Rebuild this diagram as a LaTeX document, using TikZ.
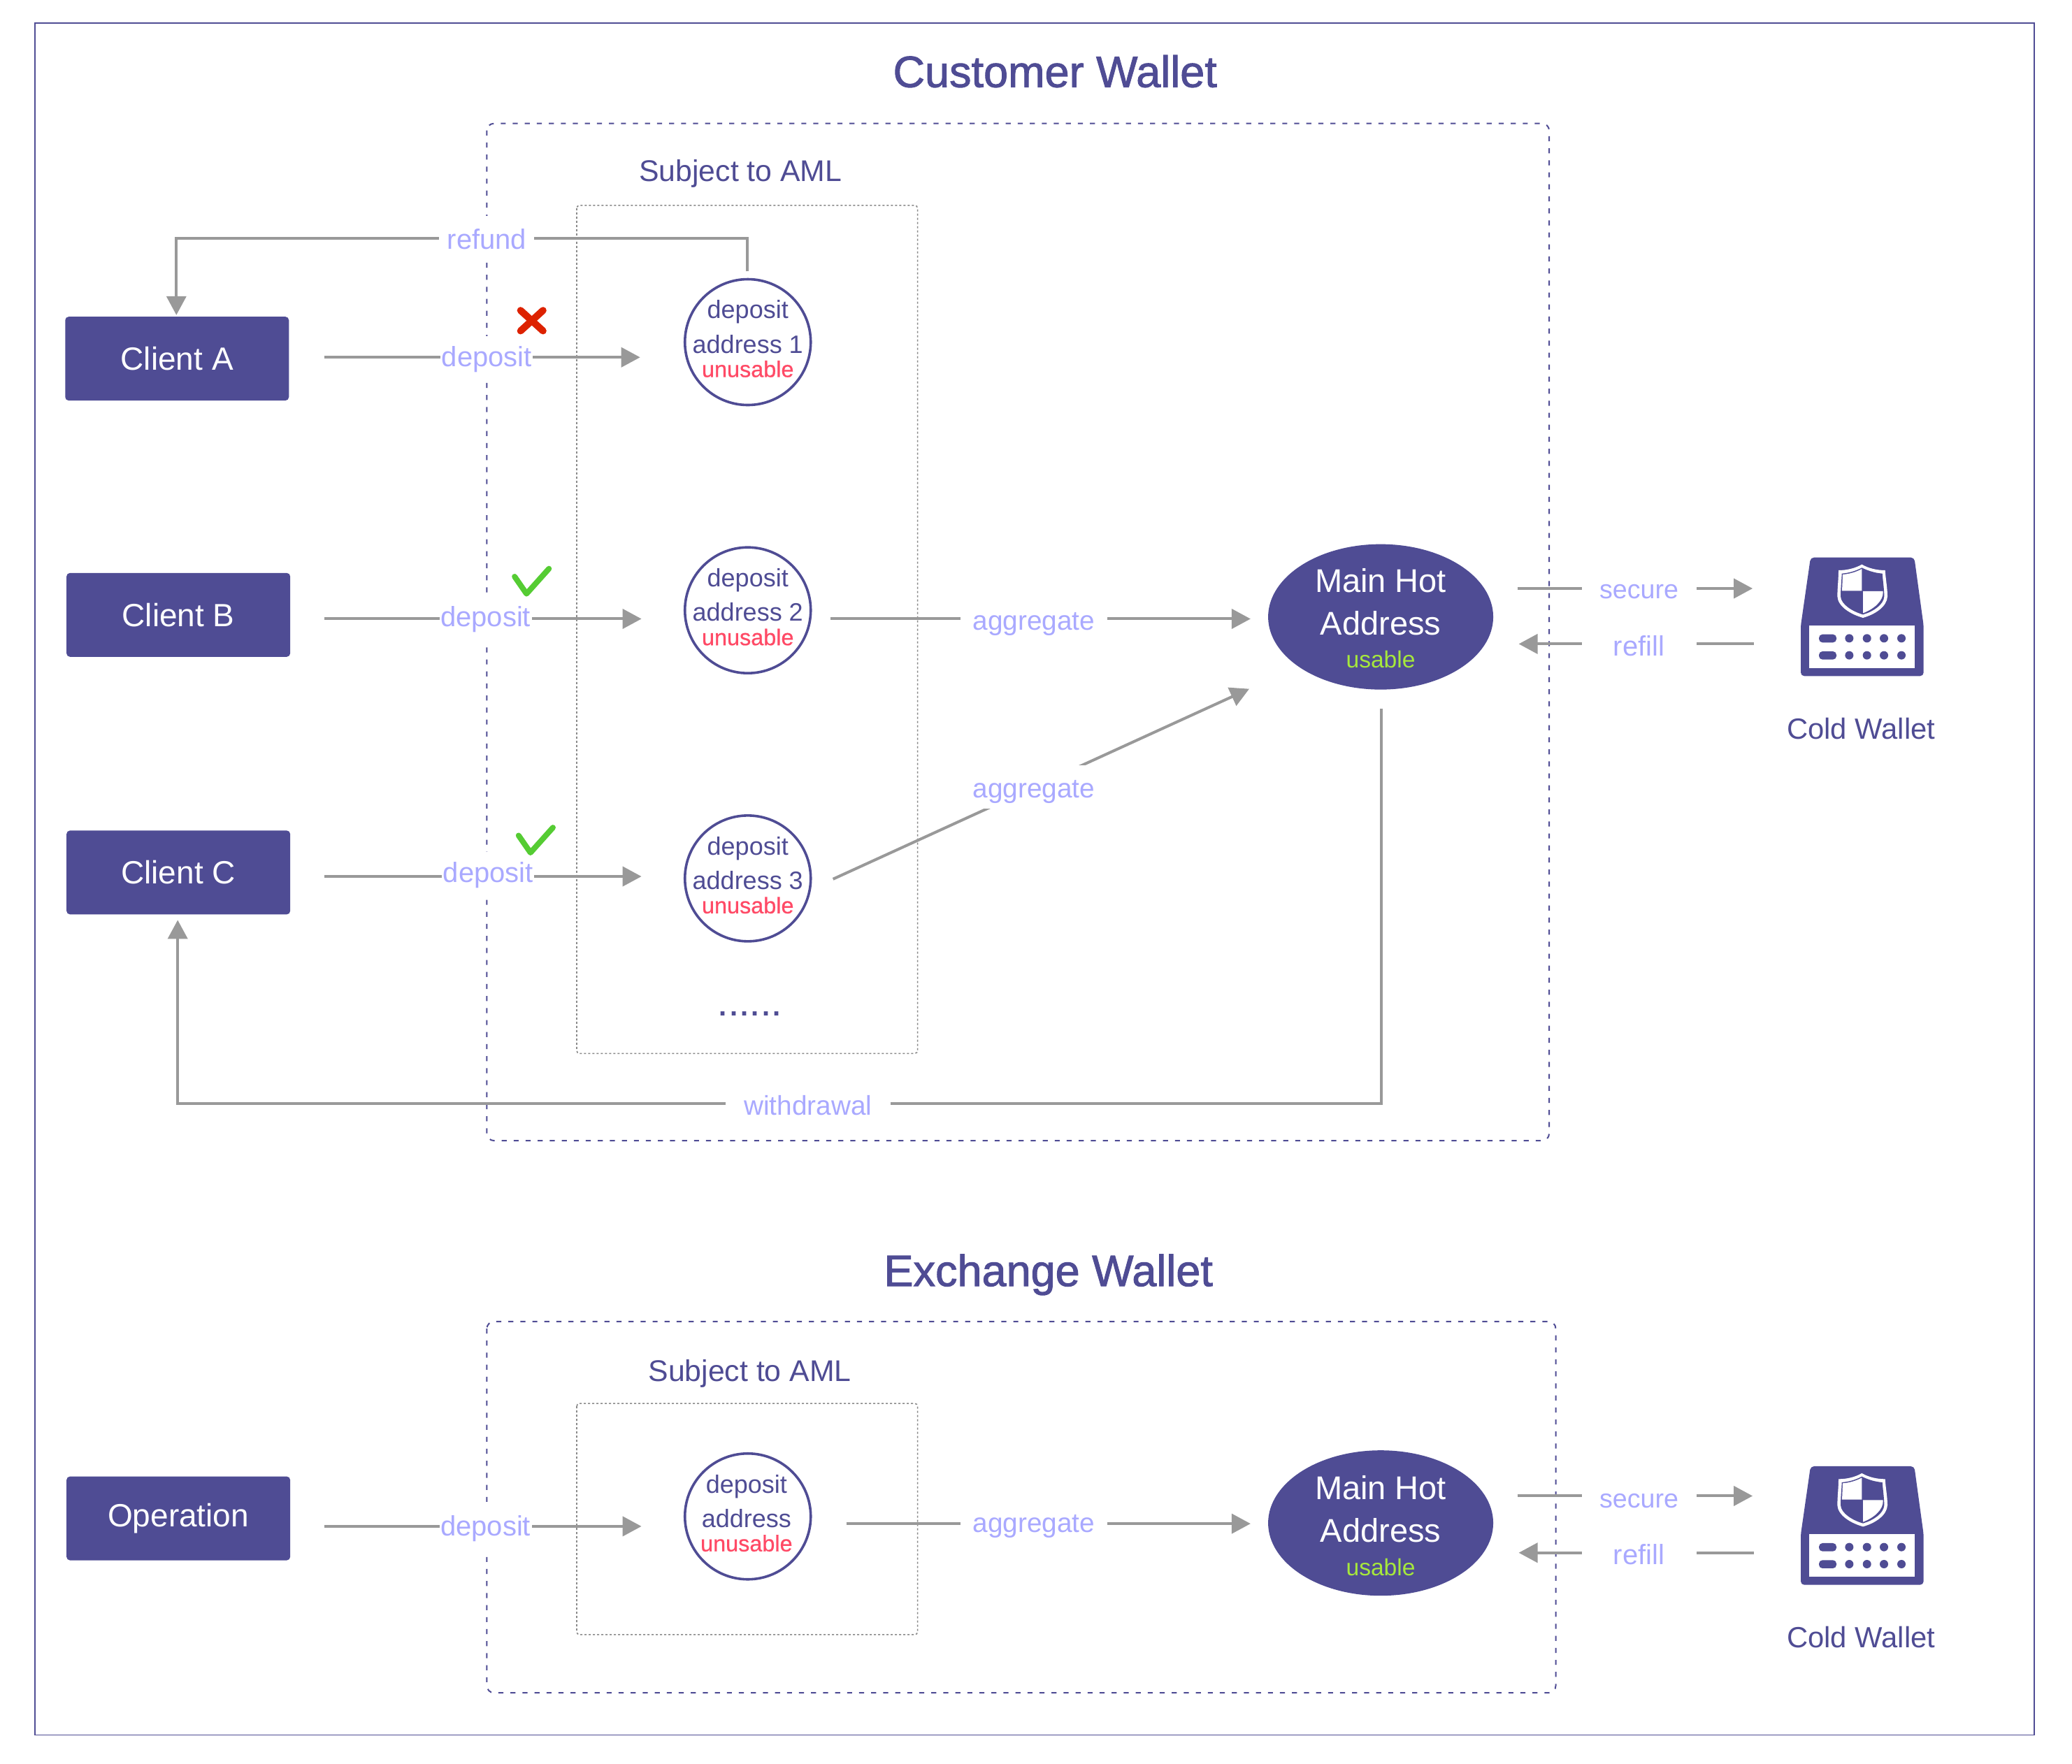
\documentclass[tikz,border=0pt]{standalone}
\usepackage{fontspec}
\setmainfont{Liberation Sans}
\newfontfamily\titlefont[FakeBold=1.5]{Liberation Sans}
\newfontfamily\medfont[FakeBold=0.6]{Liberation Sans}
\usetikzlibrary{arrows.meta,shapes.geometric,calc}
\definecolor{wpurple}{HTML}{4F4C94}
\definecolor{wlabel}{HTML}{A9A9FF}
\definecolor{wgray}{HTML}{999999}
\definecolor{wred}{HTML}{FF4A66}
\definecolor{wgreen}{HTML}{A6E83C}
\definecolor{wcross}{HTML}{DD2200}
\definecolor{wcheck}{HTML}{55CC33}
\newcommand{\coldicon}[1]{%
\begin{scope}[shift={(#1)},x=0.16667pt,y=-0.16667pt]
 \fill[wpurple,rounded corners=2.5pt] (270,113)--(715,113)--(755,405)--(755,622)--(228,622)--(228,405)--cycle;
 \fill[white] (265,405) rectangle (718,587);
 \foreach \yy in {460,533}{
  \foreach \xx in {436,512,585,660}{\fill[wpurple] (\xx,\yy) circle[radius=3pt];}
  \fill[wpurple,rounded corners=2.5pt] (306,\yy-17) rectangle (381,\yy+18);
 }
 \fill[white] (490,143) .. controls (520,160) and (555,168) .. (590,168) .. controls (592,205) and (600,245) .. (600,280) .. controls (598,325) and (545,358) .. (495,372) .. controls (445,358) and (387,325) .. (385,280) .. controls (385,245) and (390,205) .. (390,168) .. controls (425,168) and (460,160) .. (490,143) -- cycle;
 \fill[wpurple] (490,157) .. controls (520,172) and (550,180) .. (578,182) .. controls (580,210) and (586,250) .. (586,280) .. controls (584,315) and (540,345) .. (495,358) .. controls (450,345) and (401,315) .. (399,280) .. controls (399,250) and (403,210) .. (404,182) .. controls (432,180) and (462,172) .. (490,157) -- cycle;
 \fill[white] (490,162) -- (490,256) -- (405,256) -- (408,186) .. controls (435,184) and (465,176) .. (490,162) -- cycle;
 \fill[white] (495,258) -- (581,258) .. controls (584,300) and (540,335) .. (495,352) -- cycle;
\end{scope}}
\tikzset{
 frame/.style={draw=wpurple,line width=0.8pt},
 dashbox/.style={draw=wpurple,line width=1pt,dash pattern=on 3.6pt off 5pt,rounded corners=5pt},
 dotbox/.style={draw=wgray!90!black,line width=0.8pt,dash pattern=on 1.5pt off 1.5pt,rounded corners=2pt},
 client/.style={fill=wpurple,rounded corners=2.5pt,minimum width=160pt,minimum height=60pt,inner sep=0pt,text=white,font=\fontsize{23}{28}\selectfont},
 addr/.style={circle,draw=wpurple,line width=1.8pt,minimum size=90pt,inner sep=0pt},
 addrtext/.style={align=center,inner sep=0pt,text=wpurple,font=\fontsize{18}{24.7}\selectfont},
 hot/.style={ellipse,fill=wpurple,minimum width=161pt,minimum height=104pt,inner sep=0pt},
 hottext/.style={align=center,inner sep=0pt,text=white,font=\fontsize{23.5}{30.4}\selectfont},
 arr/.style={draw=wgray,line width=2pt,-{Triangle[length=13.5pt,width=14pt]}},
 lab/.style={fill=white,inner sep=0pt,minimum height=33pt,text=wlabel,font=\fontsize{20}{24}\selectfont},
 labb/.style={lab,font=\fontsize{19.4}{24}\selectfont},
 labc/.style={lab,font=\fontsize{18.8}{24}\selectfont},
 head/.style={text=wpurple,inner sep=0pt,font=\fontsize{21.4}{26}\selectfont},
 cold/.style={text=wpurple,inner sep=0pt,font=\fontsize{20.9}{24}\selectfont},
 wtitle/.style={text=wpurple,inner sep=0pt,font=\titlefont\fontsize{31.5}{36}\selectfont},
}
\newcommand{\unus}{{\color{wred}\medfont\fontsize{16.2}{17}\selectfont unusable}}
\newcommand{\usab}{{\color{wgreen}\fontsize{16.8}{17}\selectfont usable}}
\begin{document}
\begin{tikzpicture}[x=0.945pt,y=-0.945pt]
\useasboundingbox (0,0) rectangle (1568.25,1335.4);
\fill[white] (0,0) rectangle (1568.25,1335.4);
\begin{scope}[shift={(0.5,0.5)}]
\draw[frame] (26,17) rectangle (1539,1313);
\draw[dashbox] (368,93) rectangle (1172,863);
\draw[dotbox] (436,155) rectangle (694,797);
\draw[dashbox] (368,1000) rectangle (1177,1281);
\draw[dotbox] (436,1062) rectangle (694,1237);

\node[wtitle] (t1) at (798,53.5) {Customer Wallet};
\node[wtitle] (t2) at (793,964.5) {Exchange Wallet};
\node[head] (s1) at (560,131) {Subject to AML};
\node[head] (s2) at (567,1039.5) {Subject to AML};

\node[client] (ca) at (133.5,271) {Client A};
\node[client] (cb) at (134.5,465) {Client B};
\node[client] (cc) at (134.5,660) {Client C};
\node[client] (op) at (134.5,1149) {Operation};

\node[addr] (d1) at (565.5,258.5) {};
\node[addr] (d2) at (565.5,461.5) {};
\node[addr] (d3) at (565.5,664.5) {};
\node[addr] (d4) at (565.5,1147.5) {};
\node[addrtext] (d1t) at (565.5,256) {deposit\\address 1\\[-7.6pt]\unus};
\node[addrtext] (d2t) at (565.5,459) {deposit\\address 2\\[-7.6pt]\unus};
\node[addrtext] (d3t) at (565.5,662) {deposit\\address 3\\[-7.6pt]\unus};
\node[addrtext] (d4t) at (564.5,1145) {deposit\\address\\[-7.6pt]\unus};
\node[text=wpurple,inner sep=0pt,font=\fontsize{20}{24}\selectfont\bfseries] (more) at (567,767) {.\kern2.1pt.\kern2.1pt.\kern2.1pt.\kern2.1pt.\kern2.1pt.};

\node[hot] (h1) at (1044.5,466.5) {};
\node[hot] (h2) at (1044.5,1152.5) {};
\node[hottext] (h1t) at (1044.5,467.5) {Main Hot\\Address\\[-6.6pt]\usab};
\node[hottext] (h2t) at (1044.5,1154.5) {Main Hot\\Address\\[-6.6pt]\usab};

\coldicon{1322.25,401.6}
\coldicon{1322.25,1089.6}
\node[cold] (w1) at (1408,551) {Cold Wallet};
\node[cold] (w2) at (1408,1239) {Cold Wallet};

% free connector ends
\coordinate (e1s) at (245,270);   \coordinate (e1e) at (484,270);
\coordinate (e2s) at (245,468);   \coordinate (e2e) at (485,468);
\coordinate (e3s) at (245,663);   \coordinate (e3e) at (485,663);
\coordinate (e4s) at (245,1155);  \coordinate (e4e) at (485,1155);
\coordinate (g2s) at (628,468);   \coordinate (g2e) at (946,468);
\coordinate (g3s) at (630,665);   \coordinate (g3e) at (945,521);
\coordinate (g4s) at (640,1153);  \coordinate (g4e) at (946,1153);
\coordinate (r1s) at (565,205);   \coordinate (r1e) at (133,238);
\coordinate (w1s) at (1045,536);  \coordinate (w1e) at (134,696);
\coordinate (a1s) at (1148,445);  \coordinate (a1e) at (1326,445);
\coordinate (b1s) at (1327,487);  \coordinate (b1e) at (1149,487);
\coordinate (a2s) at (1148,1132); \coordinate (a2e) at (1326,1132);
\coordinate (b2s) at (1327,1175); \coordinate (b2e) at (1149,1175);

\draw[arr] (e1s) -- (e1e);
\draw[arr] (e2s) -- (e2e);
\draw[arr] (e3s) -- (e3e);
\draw[arr] (e4s) -- (e4e);
\draw[arr] (g2s) -- (g2e);
\draw[arr] (g3s) -- (g3e);
\draw[arr] (g4s) -- (g4e);
\draw[arr] (r1s) -- (565,180) -- (133,180) -- (r1e);
\draw[arr] (w1s) -- (1045,835) -- (134,835) -- (w1e);
\draw[arr] (a1s) -- (a1e);
\draw[arr] (b1s) -- (b1e);
\draw[arr] (a2s) -- (a2e);
\draw[arr] (b2s) -- (b2e);

\node[lab,minimum width=68pt] (l1) at (368,180.5) {refund};
\node[lab,minimum width=66pt] (l2) at (368,271.5) {deposit};
\node[lab,minimum width=66pt] (l3) at (367,468.5) {deposit};
\node[lab,minimum width=66pt] (l4) at (369,662) {deposit};
\node[lab,minimum width=66pt] (l5) at (367,1156.5) {deposit};
\node[labb,minimum width=105pt] (l6) at (782,472) {aggregate};
\node[fill=white,inner sep=0pt,minimum width=105pt,minimum height=31pt] (l7g) at (782,595.5) {};
\node[labb,fill=none,minimum width=105pt] (l7) at (782,599) {aggregate};
\node[labb,minimum width=105pt] (l8) at (782,1155) {aggregate};
\node[labb,minimum width=118pt] (l9) at (611,836.5) {withdrawal};
\node[labc,minimum width=82pt] (l10) at (1240,447.5) {secure};
\node[lab,minimum width=82pt] (l11) at (1240,488.5) {refill};
\node[labc,minimum width=82pt] (l12) at (1240,1135.5) {secure};
\node[lab,minimum width=82pt] (l13) at (1240,1176.5) {refill};

\draw[wcross,line width=5pt,line cap=round] (393.5,234.5) -- (410.5,250);
\draw[wcross,line width=5pt,line cap=round] (410.5,234.5) -- (393.5,250);
\draw[wcheck,line width=4pt,line cap=round,line join=round] (389,436) -- (398,449) -- (415,430);
\draw[wcheck,line width=4pt,line cap=round,line join=round] (392,632) -- (401,645) -- (418,626);
\end{scope}
\end{tikzpicture}
\end{document}
